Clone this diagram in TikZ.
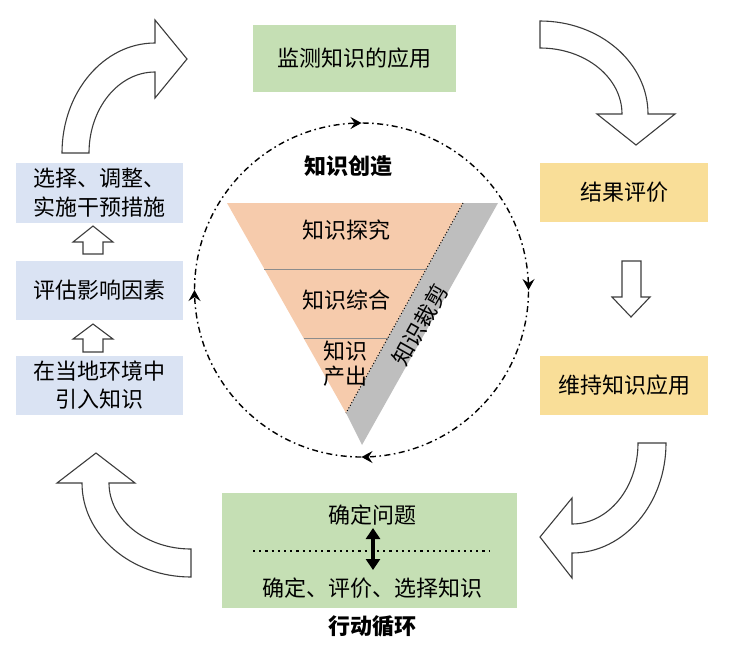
\documentclass[tikz,border=0pt]{standalone}
\usepackage{fontspec}
\setmainfont{Noto Sans CJK SC}
\usetikzlibrary{arrows.meta,decorations.markings,calc}
\definecolor{boxgreen}{RGB}{197,223,180}
\definecolor{boxblue}{RGB}{218,227,243}
\definecolor{boxyellow}{RGB}{249,222,152}
\definecolor{triorange}{RGB}{246,203,172}
\definecolor{trigray}{RGB}{190,190,190}
\definecolor{outl}{RGB}{60,60,60}
\begin{document}
\begin{tikzpicture}[x=1pt,y=-1pt,
  txt/.style={font=\fontsize{22}{29}\selectfont, inner sep=0pt, align=center},
  btxt/.style={font=\fontsize{22}{29}\selectfont\bfseries, inner sep=0pt, align=center},
  box/.style={txt, draw=none},
  blockarrow/.style={draw=outl, fill=white, line width=1.1pt, line join=miter},
  circtip/.style={decoration={markings,
      mark=at position 0.125 with {\arrow{Stealth[length=11pt,width=12pt,inset=4pt]}},
      mark=at position 0.375 with {\arrow{Stealth[length=11pt,width=12pt,inset=4pt]}},
      mark=at position 0.625 with {\arrow{Stealth[length=11pt,width=12pt,inset=4pt]}},
      mark=at position 0.875 with {\arrow{Stealth[length=11pt,width=12pt,inset=4pt]}}},
      postaction={decorate}}
]
\useasboundingbox (0,0) rectangle (733,654);

% ---------- boxes ----------
\node[box, fill=boxgreen, minimum width=203pt, minimum height=67pt] (mon) at (354.5,58.5) {监测知识的应用};

\node[box, fill=boxblue, minimum width=167pt, minimum height=60pt] (sel) at (99.5,193) {选择、调整、\\实施干预措施};
\node[box, fill=boxblue, minimum width=167pt, minimum height=59pt] (eva) at (99.5,290.5) {评估影响因素};
\node[box, fill=boxblue, minimum width=167pt, minimum height=59pt, font=\fontsize{22}{28}\selectfont] (intro) at (99.5,385.5) {在当地环境中\\引入知识};

\node[box, fill=boxyellow, minimum width=168pt, minimum height=59pt] (res) at (624,192.5) {结果评价};
\node[box, fill=boxyellow, minimum width=168pt, minimum height=59pt] (keep) at (624,385.5) {维持知识应用};

\node[box, fill=boxgreen, minimum width=295pt, minimum height=115pt] (act) at (369.5,550.5) {};
\node[txt] (q1) at (372,515) {确定问题};
\node[txt] (q2) at (372,588) {确定、评价、选择知识};
\node[btxt] (actt) at (372,626) {行动循环};

\coordinate (dl) at (253,551);
\coordinate (dr) at (489,551);
\draw[line width=2.2pt, dash pattern=on 2.2pt off 4pt] (dl) -- (dr);
\coordinate (da) at (373,528);
\coordinate (db) at (373,570);
\draw[line width=3.6pt, {Triangle[length=11pt,width=14pt]}-{Triangle[length=11pt,width=14pt]}] (da) -- (db);

% ---------- straight block arrows ----------
\draw[blockarrow] (83,254) -- (83,242) -- (73,242) -- (93,226) -- (113,242) -- (103,242) -- (103,254) -- cycle;
\draw[blockarrow] (83,352) -- (83,339) -- (73,339) -- (93,324) -- (113,339) -- (103,339) -- (103,352) -- cycle;
\draw[blockarrow] (622,261) -- (641,261) -- (641,297) -- (650,297) -- (631,317) -- (612,297) -- (622,297) -- cycle;

% ---------- curved block arrows ----------
% top-left
\draw[blockarrow] (62,153) arc[start angle=180, end angle=270, x radius=93, y radius=110]
  -- (155,20) -- (187,59) -- (155,98) -- (155,72)
  arc[start angle=270, end angle=180, x radius=66, y radius=81] -- cycle;
% top-right
\draw[blockarrow] (540,21) arc[start angle=270, end angle=360, x radius=108, y radius=93]
  -- (675,114) -- (636,145) -- (597,114) -- (622,114)
  arc[start angle=0, end angle=-90, x radius=82, y radius=66] -- cycle;
% bottom-right
\draw[blockarrow] (666,443) arc[start angle=0, end angle=90, x radius=94, y radius=110]
  -- (572,578) -- (540,537) -- (572,498) -- (572,524)
  arc[start angle=90, end angle=0, x radius=66, y radius=81] -- cycle;
% bottom-left
\draw[blockarrow] (191,577) arc[start angle=90, end angle=180, x radius=109, y radius=94]
  -- (57,483) -- (96,453) -- (135,483) -- (109,483)
  arc[start angle=180, end angle=90, x radius=82, y radius=66] -- cycle;

% ---------- circle ----------
\coordinate (cc) at (361.5,290);
\draw[line width=1.4pt, dash pattern=on 6pt off 3.5pt on 1.6pt off 3.5pt, circtip]
  ($(cc)+(118.1,118.1)$) arc[start angle=45, end angle=405, radius=167];

% ---------- triangle ----------
\coordinate (tA) at (227,203);
\coordinate (tB) at (463,203);
\coordinate (tC) at (346,413);
\coordinate (tG) at (498,203);
\coordinate (tD) at (362,445);
\fill[trigray] (tB) -- (tG) -- (tD) -- (tC) -- cycle;
\fill[triorange] (tA) -- (tB) -- (tC) -- cycle;
\draw[line width=0.8pt, black!45] ($(tA)!0.314!(tC)$) coordinate (h1l) -- ($(tB)!0.314!(tC)$) coordinate (h1r);
\draw[line width=0.8pt, black!45] ($(tA)!0.643!(tC)$) coordinate (h2l) -- ($(tB)!0.643!(tC)$) coordinate (h2r);
\draw[line width=1pt, dotted] (tB) -- (tC);

\node[btxt] (kc) at (348,166) {知识创造};
\node[txt] (k1) at (346,230) {知识探究};
\node[txt] (k2) at (346,300) {知识综合};
\node[txt, font=\fontsize{22}{25}\selectfont] (k3) at (345,364) {知识\\产出};
\node[txt, rotate=60.7] (k4) at (420,325) {知识裁剪};

\end{tikzpicture}
\end{document}
